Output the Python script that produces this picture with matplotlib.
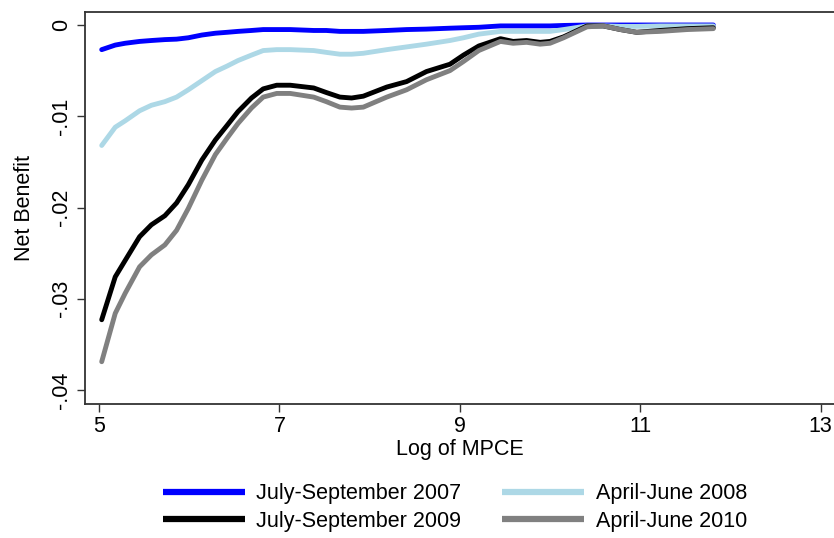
import matplotlib
matplotlib.use("Agg")
import matplotlib.pyplot as plt
import numpy as np

log_mpce = [5.03, 5.18, 5.29, 5.45, 5.58, 5.73, 5.86, 5.99, 6.14, 6.29, 6.42, 6.54,
            6.69, 6.82, 6.97, 7.12, 7.38, 7.52, 7.67, 7.80, 7.93, 8.19, 8.41, 8.63,
            8.89, 9.04, 9.21, 9.45, 9.59, 9.74, 9.89, 10.00, 10.15, 10.41, 10.59,
            10.78, 10.96, 11.22, 11.52, 11.81]

jul_sep_2007 = [-0.27, -0.22, -0.20, -0.18, -0.17, -0.16, -0.155, -0.14, -0.11, -0.09, -0.08, -0.07,
                -0.06, -0.05, -0.05, -0.05, -0.06, -0.06, -0.07, -0.07, -0.07, -0.06, -0.05, -0.045,
                -0.035, -0.03, -0.025, -0.01, -0.01, -0.01, -0.01, -0.01, -0.005, 0.0, 0.0,
                0.0, 0.0, 0.0, 0.0, 0.0]

apr_jun_2008 = [-1.32, -1.12, -1.05, -0.94, -0.88, -0.84, -0.79, -0.71, -0.61, -0.51, -0.45, -0.39,
                -0.33, -0.28, -0.27, -0.27, -0.28, -0.30, -0.32, -0.32, -0.31, -0.27, -0.24, -0.21,
                -0.17, -0.14, -0.10, -0.07, -0.07, -0.07, -0.07, -0.07, -0.05, -0.01, -0.01,
                -0.015, -0.015, -0.01, -0.01, -0.01]

jul_sep_2009 = [-3.23, -2.76, -2.58, -2.32, -2.19, -2.09, -1.95, -1.75, -1.48, -1.26, -1.10, -0.95,
                -0.80, -0.70, -0.66, -0.66, -0.69, -0.74, -0.79, -0.80, -0.78, -0.68, -0.62, -0.51,
                -0.43, -0.33, -0.23, -0.15, -0.18, -0.17, -0.19, -0.18, -0.13, -0.01, -0.01,
                -0.05, -0.08, -0.06, -0.04, -0.03]

apr_jun_2010 = [-3.69, -3.16, -2.94, -2.65, -2.52, -2.41, -2.25, -2.01, -1.70, -1.42, -1.24, -1.08,
                -0.91, -0.79, -0.75, -0.75, -0.79, -0.84, -0.90, -0.91, -0.90, -0.79, -0.71, -0.60,
                -0.50, -0.40, -0.28, -0.18, -0.20, -0.19, -0.21, -0.20, -0.14, -0.02, -0.01,
                -0.05, -0.08, -0.07, -0.05, -0.04]

series_labels = ["July-September 2007", "April-June 2008", "July-September 2009", "April-June 2010"]
series_colors = ["#0000FF", "#ADD8E6", "#000000", "#808080"]

xticks = [5, 7, 9, 11, 13]
yticks = [0, -0.01, -0.02, -0.03, -0.04]
ytick_labels = ["0", "-.01", "-.02", "-.03", "-.04"]

plt.rcParams['font.family'] = ['Liberation Sans', 'DejaVu Sans']
FS = 15.5

W, H = 834, 538
fig = plt.figure(figsize=(W / 100, H / 100), dpi=100)
left, right, top, bottom = 85, 834, 12, 404
ax = fig.add_axes([left / W, 1 - bottom / H, (right - left) / W, (bottom - top) / H])

x = np.array(log_mpce)
data = [jul_sep_2007, apr_jun_2008, jul_sep_2009, apr_jun_2010]
handles = []
for vals, lab, col in zip(data, series_labels, series_colors):
    h, = ax.plot(x, np.array(vals) / 100.0, color=col, lw=3.5, label=lab,
                 solid_capstyle='round', solid_joinstyle='round')
    handles.append(h)

# x: 5 at px 99, 13 at px 820.7
ppx = (820.7 - 99) / 8
ax.set_xlim(5 - (99 - left) / ppx, 13 + (right - 820.7) / ppx)
# y: 0 at px 25, -0.04 at 390
ppy = (390 - 25) / 0.04
ax.set_ylim(-(bottom - 25) / ppy, (25 - top) / ppy)

ax.set_xticks(xticks)
ax.set_xticklabels([str(t) for t in xticks], fontsize=FS)
ax.set_yticks(yticks)
ax.set_yticklabels(ytick_labels, fontsize=FS, rotation=90, va='center')
ax.tick_params(axis='both', direction='out', length=6, width=1.0, color='#333333', pad=3)
for s in ['left', 'top', 'bottom']:
    ax.spines[s].set_color('#333333')
    ax.spines[s].set_linewidth(1.3)
ax.spines['right'].set_visible(False)

ax.set_xlabel("Log of MPCE", fontsize=FS, labelpad=1)
ax.set_ylabel("Net Benefit", fontsize=FS, labelpad=12)

# matplotlib fills legend column-wise; reference reads row-wise
order = [0, 2, 1, 3]
leg = fig.legend([handles[i] for i in order], [series_labels[i] for i in order],
                 ncol=2, loc='center',
                 bbox_to_anchor=(455 / W, 1 - 507.5 / H), frameon=False,
                 fontsize=FS, handlelength=3.8, handletextpad=0.55,
                 columnspacing=1.9, labelspacing=0.3, borderpad=0)
for lh in leg.legend_handles:
    lh.set_linewidth(4.5)
    lh.set_solid_capstyle('butt')

fig.savefig("out.png", dpi=100)
